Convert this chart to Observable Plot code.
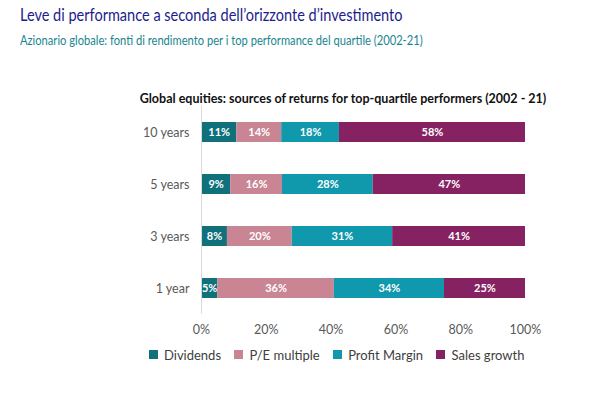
<!DOCTYPE html>
<html>
<head>
<meta charset="utf-8">
<script src="https://cdn.jsdelivr.net/npm/d3@7"></script>
<script src="https://cdn.jsdelivr.net/npm/@observablehq/plot@0.6"></script>
<style>
  html, body { margin: 0; padding: 0; background: #fff; }
  body { width: 602px; height: 399px; position: relative; overflow: hidden; font-family: Lato, "Open Sans", sans-serif; }
  #title { position: absolute; left: 20px; top: 4px; font-size: 17.5px; color: #1c1c8c; white-space: nowrap; transform: scaleX(0.83); transform-origin: left top; }
  #subtitle { position: absolute; left: 20px; top: 31px; font-size: 14.3px; color: #18868f; white-space: nowrap; transform: scaleX(0.78); transform-origin: left top; }
  #ctitle { position: absolute; left: 0; width: 686px; text-align: center; top: 91px; font-size: 12.5px; font-weight: bold; color: #111; white-space: nowrap; }
  #chart { position: absolute; left: 0; top: 0; }
  #legend { position: absolute; left: 0; top: 338px; width: 686px; display: flex; justify-content: center; }
</style>
</head>
<body>
<div id="chart"></div>
<div id="title">Leve di performance a seconda dell’orizzonte d’investimento</div>
<div id="subtitle">Azionario globale: fonti di rendimento per i top performance del quartile (2002-21)</div>
<div id="ctitle">Global equities: sources of returns for top-quartile performers (2002 - 21)</div>
<div id="legend"></div>
<script>
const horizons = ["10 years", "5 years", "3 years", "1 year"];
const sources = ["Dividends", "P/E multiple", "Profit Margin", "Sales growth"];
const dividends = [11, 9, 8, 5];
const peMultiple = [14, 16, 20, 36];
const profitMargin = [18, 28, 31, 34];
const salesGrowth = [58, 47, 41, 25];
const xTicks = [0, 0.2, 0.4, 0.6, 0.8, 1];
const colors = ["#10707b", "#c98593", "#1098ad", "#862262"];

const series = [dividends, peMultiple, profitMargin, salesGrowth];
const data = [];
horizons.forEach((h, i) => {
  sources.forEach((s, j) => data.push({horizon: h, source: s, value: series[j][i]}));
});

const colorScale = {domain: sources, range: colors};

const chart = Plot.plot({
  width: 602,
  height: 399,
  marginLeft: 201,
  marginRight: 77,
  marginTop: 105.5,
  marginBottom: 85.5,
  style: {fontFamily: "Lato, 'Open Sans', sans-serif", background: "transparent"},
  x: {domain: [0, 1], ticks: xTicks, tickFormat: d => Math.round(d * 100) + "%", label: null},
  y: {domain: horizons, padding: 0, label: null},
  color: colorScale,
  marks: [
    Plot.barX(data, Plot.stackX({offset: "normalize", order: null, x: "value", y: "horizon", z: "source", fill: "source", insetTop: 16, insetBottom: 16})),
    Plot.text(data, Plot.stackX({offset: "normalize", order: null, x: "value", y: "horizon", z: "source", text: d => d.value + "%", fill: "white", fontWeight: "bold", fontSize: 11})),
    Plot.ruleX([0], {stroke: "#d9d9d9", y1: null, y2: null}),
    Plot.axisX({ticks: xTicks, tickFormat: d => Math.round(d * 100) + "%", tickSize: 0, tickPadding: 11, fontSize: 12.5, color: "#595959", label: null}),
    Plot.axisY({tickSize: 0, tickPadding: 12, fontSize: 12.5, color: "#595959", label: null})
  ]
});
document.getElementById("chart").appendChild(chart);

const legend = Plot.legend({
  color: colorScale,
  swatchSize: 9,
  swatchWidth: 9,
  swatchHeight: 9,
  style: {fontFamily: "Lato, 'Open Sans', sans-serif", fontSize: "13px", color: "#404040"}
});
document.getElementById("legend").appendChild(legend);
</script>
</body>
</html>
